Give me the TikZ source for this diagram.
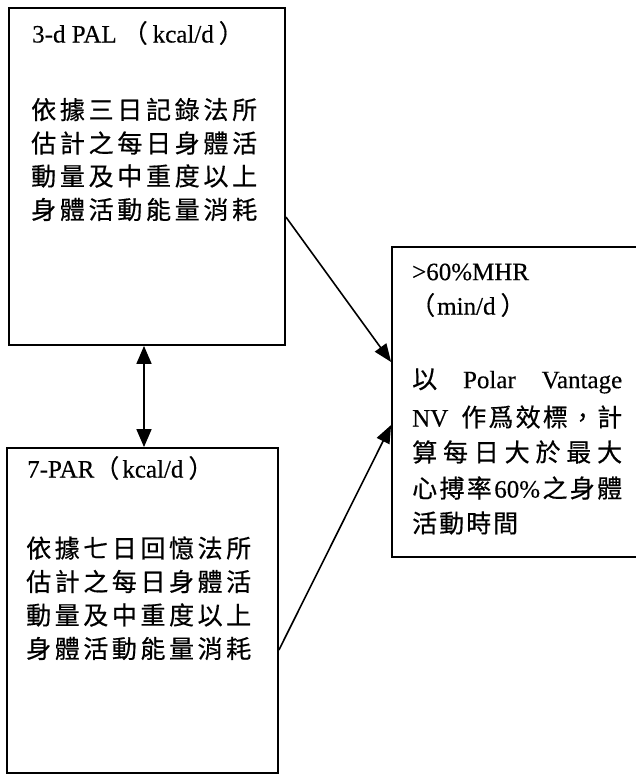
\documentclass[tikz,border=0pt]{standalone}
\usepackage{fontspec}
\setmainfont{Liberation Serif}[FakeBold=0.3]
\newfontfamily\cjk{Noto Sans CJK TC}[FakeBold=0.5]
\usetikzlibrary{arrows.meta}
\ExplSyntaxOn
\NewDocumentCommand\jline{m m}
 {
  \seq_set_split:Nnn \l_tmpa_seq { } { #2 }
  \makebox[#1][s]{ \seq_use:Nn \l_tmpa_seq { \hfill } }
 }
\ExplSyntaxOff
\tikzset{
  box/.style={draw, line width=1.8pt, inner sep=0pt},
  txt/.style={anchor=west, inner sep=0pt, font=\fontsize{25}{25}\selectfont},
  cjkt/.style={anchor=west, inner sep=0pt, font=\cjk\fontsize{25}{25}\selectfont},
  conn/.style={line width=1.6pt},
  tip/.style={-{Triangle[length=18pt,width=14pt]}},
  dtip/.style={{Triangle[length=18pt,width=15pt]}-{Triangle[length=18pt,width=15pt]}}
}
\begin{document}
\begin{tikzpicture}[x=1pt,y=-1pt]
\useasboundingbox (0,0) rectangle (636,777);
\clip (0,0) rectangle (636,777);
\fill[white] (0,0) rectangle (636,777);
% boxes
\node[box, minimum width=276pt, minimum height=337pt] (b1) at (147,176.5) {};
\node[box, minimum width=271pt, minimum height=325pt] (b2) at (142.5,610.5) {};
\node[box, minimum width=268pt, minimum height=310pt] (b3) at (526,402) {};
% box 1 text
\node[txt] (t1) at (32,33) {3-d PAL\hspace{6pt}{\cjk （}\hspace{5pt}kcal/d\hspace{5pt}{\cjk ）}};
\node[cjkt] (t1a) at (31,109.5) {\jline{226pt}{依據三日記錄法所}};
\node[cjkt] (t1b) at (31,143) {\jline{226pt}{估計之每日身體活}};
\node[cjkt] (t1c) at (31,176) {\jline{226pt}{動量及中重度以上}};
\node[cjkt] (t1d) at (31,209.5) {\jline{226pt}{身體活動能量消耗}};
% box 2 text
\node[txt] (t2) at (27,468) {7-PAR{\cjk （}\hspace{3pt}kcal/d\hspace{5pt}{\cjk ）}};
\node[cjkt] (t2a) at (26,548) {\jline{225pt}{依據七日回憶法所}};
\node[cjkt] (t2b) at (26,581.5) {\jline{225pt}{估計之每日身體活}};
\node[cjkt] (t2c) at (26,615) {\jline{225pt}{動量及中重度以上}};
\node[cjkt] (t2d) at (26,648.5) {\jline{225pt}{身體活動能量消耗}};
% box 3 text
\node[txt] (t3) at (412,272) {>60\%MHR};
\node[txt] (t3u) at (410,305) {{\cjk （}\hspace{2pt}min/d\hspace{5pt}{\cjk ）}};
\node[txt] (t3a) at (412,381) {\makebox[210pt][s]{{\cjk 以}\hfill Polar\hfill Vantage}};
\node[txt] (t3b) at (412,417) {\makebox[210pt][s]{NV\hspace{0pt plus 6fill}{\cjk 作\hfill 爲\hfill 效\hfill 標\hfill ，\hfill 計}}};
\node[cjkt] (t3c) at (412,452) {\jline{210pt}{算每日大於最大}};
\node[txt] (t3d) at (412,488) {\makebox[210pt][s]{{\cjk 心}\hfill{\cjk 搏}\hfill{\cjk 率}\hfill 60\%\hfill{\cjk 之}\hfill{\cjk 身}\hfill{\cjk 體}}};
\node[cjkt] (t3e) at (412,523) {\jline{106pt}{活動時間}};
% connectors
\coordinate (m) at (144,0);
\coordinate (p1) at (0,217);
\coordinate (q1) at (0,362);
\coordinate (p2) at (0,650);
\coordinate (q2) at (0,425);
\draw[conn, dtip] (b1.south -| m) -- (b2.north -| m);
\draw[conn, tip] (b1.east |- p1) -- (b3.west |- q1);
\draw[conn, tip] (b2.east |- p2) -- (b3.west |- q2);
\end{tikzpicture}
\end{document}
